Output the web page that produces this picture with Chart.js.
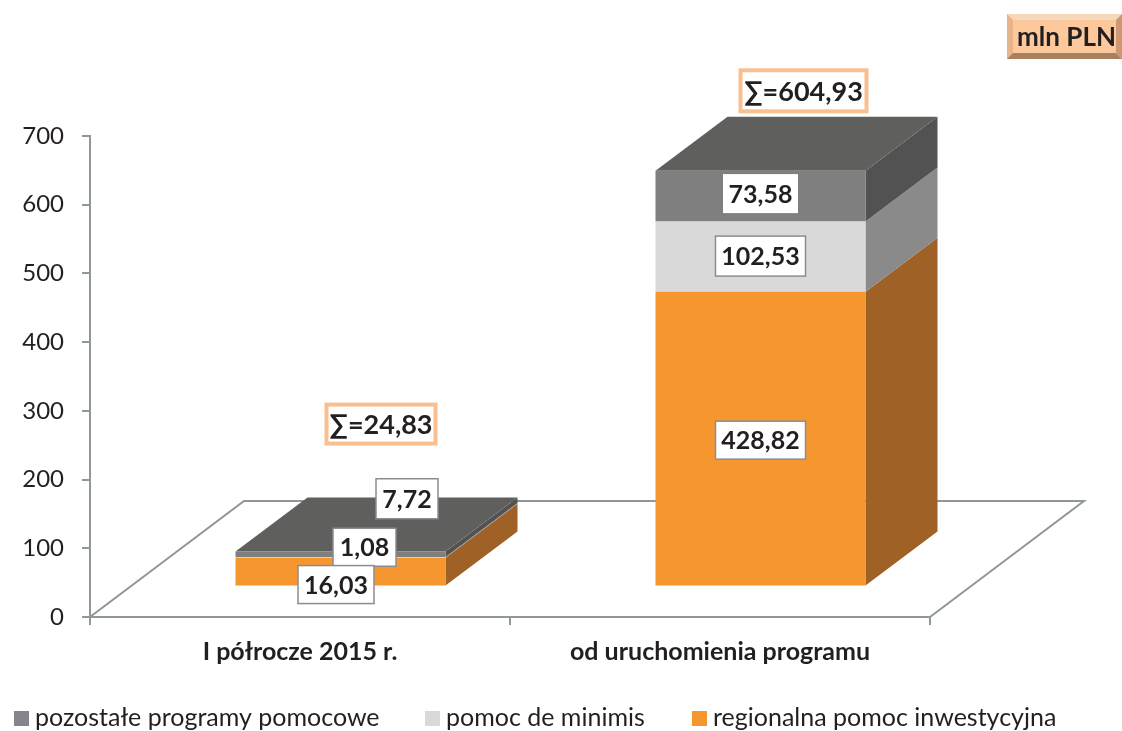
<!DOCTYPE html>
<html lang="pl">
<head>
<meta charset="utf-8">
<title>Pomoc publiczna</title>
<style>html,body{margin:0;padding:0;background:#fff}canvas{display:block}</style>
<script src="https://cdn.jsdelivr.net/npm/chart.js@4"></script>
</head>
<body>
<canvas id="c" width="1122" height="731"></canvas>
<script>
const categories = ["I półrocze 2015 r.", "od uruchomienia programu"];
const tickValues = [0, 100, 200, 300, 400, 500, 600, 700];

// Heights as drawn in the picture: the first orange block is drawn taller than its printed 16,03.
const regionalna = [42, 428.82];
const deMinimis = [1.08, 102.53];
const pozostale = [7.72, 73.58];

const regionalnaLabels = ["16,03", "428,82"];
const deMinimisLabels = ["1,08", "102,53"];
const pozostaleLabels = ["7,72", "73,58"];
const sumLabels = ["∑=24,83", "∑=604,93"];
const unitLabel = "mln PLN";

const FONT = "Lato";
const TEXT = "#231f20";
const AXIS = "#8f9798";
const SHIFT = {x: 40.5, y: -30.5};
const DEPTH = {x: 72, y: -54};
const FLOOR = {x: 154, y: -116};

const faces = [
  {front: "#f6962f", side: "#a06127"},
  {front: "#d9d9d9", side: "#8a8a8a"},
  {front: "#7f7f7f", side: "#525252", top: "#5f5f5d"}
];

// label offsets from the centre of each block
const labelLayout = [
  [{dx: -4.5, dy: 13, w: 76, h: 38}, {dx: 0, dy: 1.5, w: 90, h: 38}],
  [{dx: 24, dy: -10, w: 63, h: 38}, {dx: 0, dy: -0.5, w: 90, h: 40}],
  [{dx: 66.5, dy: -55.5, w: 62, h: 40}, {dx: 0, dy: -2.5, w: 75, h: 39, plain: true}]
];
const labelTexts = [regionalnaLabels, deMinimisLabels, pozostaleLabels];
const sumLayout = [{dx: 40.5, dy: -127.5, w: 113, h: 43}, {dx: 43, dy: -80, w: 130, h: 45}];

function poly(ctx, pts, fill) {
  ctx.beginPath();
  pts.forEach((p, i) => i ? ctx.lineTo(p[0], p[1]) : ctx.moveTo(p[0], p[1]));
  ctx.closePath();
  ctx.fillStyle = fill;
  ctx.fill();
}

const scene3d = {
  id: "scene3d",
  beforeDatasetsDraw(chart) {
    const {ctx, scales: {x, y}} = chart;
    const L = x.left, R = x.right, B = y.bottom;
    ctx.save();
    ctx.strokeStyle = AXIS;
    ctx.lineWidth = 2;
    ctx.beginPath();
    ctx.moveTo(L, B);
    ctx.lineTo(L + FLOOR.x, B + FLOOR.y);
    ctx.lineTo(R + FLOOR.x, B + FLOOR.y);
    ctx.lineTo(R, B);
    ctx.stroke();

    chart.data.datasets.forEach((ds, i) => {
      chart.getDatasetMeta(i).data.forEach(bar => {
        const r = bar.x + bar.width / 2 + SHIFT.x;
        const l = bar.x - bar.width / 2 + SHIFT.x;
        const t = bar.y + SHIFT.y;
        const b = bar.base + SHIFT.y;
        poly(ctx, [[r, t], [r + DEPTH.x, t + DEPTH.y], [r + DEPTH.x, b + DEPTH.y], [r, b]], faces[i].side);
        if (faces[i].top) {
          poly(ctx, [[l, t], [l + DEPTH.x, t + DEPTH.y], [r + DEPTH.x, t + DEPTH.y], [r, t]], faces[i].top);
        }
      });
    });
    ctx.restore();
    ctx.save();
    ctx.translate(SHIFT.x, SHIFT.y);
  },
  afterDatasetsDraw(chart) {
    const {ctx} = chart;
    ctx.restore();
    ctx.save();
    ctx.textAlign = "center";
    ctx.textBaseline = "middle";

    // value labels (drawn from the top series down so the overlaps match)
    [2, 1, 0].forEach(i => {
      chart.getDatasetMeta(i).data.forEach((bar, j) => {
        const a = labelLayout[i][j];
        const cx = bar.x + SHIFT.x + a.dx;
        const cy = (bar.y + bar.base) / 2 + SHIFT.y + a.dy;
        ctx.fillStyle = "#fff";
        ctx.fillRect(cx - a.w / 2, cy - a.h / 2, a.w, a.h);
        if (!a.plain) {
          ctx.strokeStyle = "#8c8c90";
          ctx.lineWidth = 1.5;
          ctx.strokeRect(cx - a.w / 2, cy - a.h / 2, a.w, a.h);
        }
        ctx.fillStyle = TEXT;
        ctx.font = "bold 25px " + FONT;
        ctx.fillText(labelTexts[i][j], cx, cy + 1);
      });
    });

    // totals above the stacks
    chart.getDatasetMeta(2).data.forEach((bar, j) => {
      const a = sumLayout[j];
      const cx = bar.x + SHIFT.x + a.dx;
      const cy = bar.y + SHIFT.y + a.dy;
      ctx.fillStyle = "#fff";
      ctx.fillRect(cx - a.w / 2, cy - a.h / 2, a.w, a.h);
      ctx.strokeStyle = "#fbbe8e";
      ctx.lineWidth = 4;
      ctx.strokeRect(cx - a.w / 2 + 2, cy - a.h / 2 + 2, a.w - 4, a.h - 4);
      ctx.fillStyle = TEXT;
      ctx.font = "bold 27px " + FONT;
      ctx.fillText(sumLabels[j], cx, cy + 1);
    });

    // unit badge
    const bx = 1007, by = 14, bw = 115, bh = 45, bev = 6;
    poly(ctx, [[bx, by], [bx + bw, by], [bx + bw, by + bh], [bx, by + bh]], "#fcc89c");
    poly(ctx, [[bx, by], [bx + bw, by], [bx + bw - bev, by + bev], [bx + bev, by + bev]], "#f6d9bd");
    poly(ctx, [[bx, by], [bx + bev, by + bev], [bx + bev, by + bh - bev], [bx, by + bh]], "#e9b489");
    poly(ctx, [[bx, by + bh], [bx + bev, by + bh - bev], [bx + bw - bev, by + bh - bev], [bx + bw, by + bh]], "#a98060");
    poly(ctx, [[bx + bw, by], [bx + bw, by + bh], [bx + bw - bev, by + bh - bev], [bx + bw - bev, by + bev]], "#c99a74");
    ctx.fillStyle = TEXT;
    ctx.font = "bold 26px " + FONT;
    ctx.fillText(unitLabel, bx + bw / 2 + 2, by + bh / 2 + 1);

    // legend, in reverse stacking order
    const legendX = [14, 425, 692];
    const legendSwatches = ["#85858a", "#d9d9d9", "#f6962f"];
    ctx.textAlign = "left";
    ctx.font = "25px " + FONT;
    [2, 1, 0].forEach((i, n) => {
      ctx.fillStyle = legendSwatches[n];
      ctx.fillRect(legendX[n], 711, 15, 15);
      ctx.fillStyle = TEXT;
      ctx.fillText(chart.data.datasets[i].label, legendX[n] + 21, 718);
    });
    ctx.restore();
  }
};

const mk = (label, data, i) => ({
  label, data, backgroundColor: faces[i].front, borderWidth: 0,
  categoryPercentage: 1, barPercentage: 0.5, clip: false
});

new Chart(document.getElementById("c"), {
  type: "bar",
  data: {
    labels: categories,
    datasets: [
      mk("regionalna pomoc inwestycyjna", regionalna, 0),
      mk("pomoc de minimis", deMinimis, 1),
      mk("pozostałe programy pomocowe", pozostale, 2)
    ]
  },
  plugins: [scene3d],
  options: {
    responsive: false,
    animation: false,
    layout: {padding: {left: 0, right: 192, top: 136, bottom: 0}},
    plugins: {legend: {display: false}, tooltip: {enabled: false}},
    scales: {
      x: {
        stacked: true,
        afterFit(s) { s.height = 114; },
        border: {color: AXIS, width: 2},
        grid: {drawOnChartArea: false, color: AXIS, lineWidth: 2, tickLength: 8},
        ticks: {color: TEXT, font: {family: FONT, size: 25, weight: "bold"}, padding: 12, maxRotation: 0}
      },
      y: {
        stacked: true,
        min: 0,
        max: 700,
        afterBuildTicks(s) { s.ticks = tickValues.map(value => ({value})); },
        afterFit(s) { s.width = 90; },
        border: {color: AXIS, width: 2},
        grid: {drawOnChartArea: false, color: AXIS, lineWidth: 2, tickLength: 8},
        ticks: {color: TEXT, font: {family: FONT, size: 24}, padding: 18}
      }
    }
  }
});
</script>
</body>
</html>
